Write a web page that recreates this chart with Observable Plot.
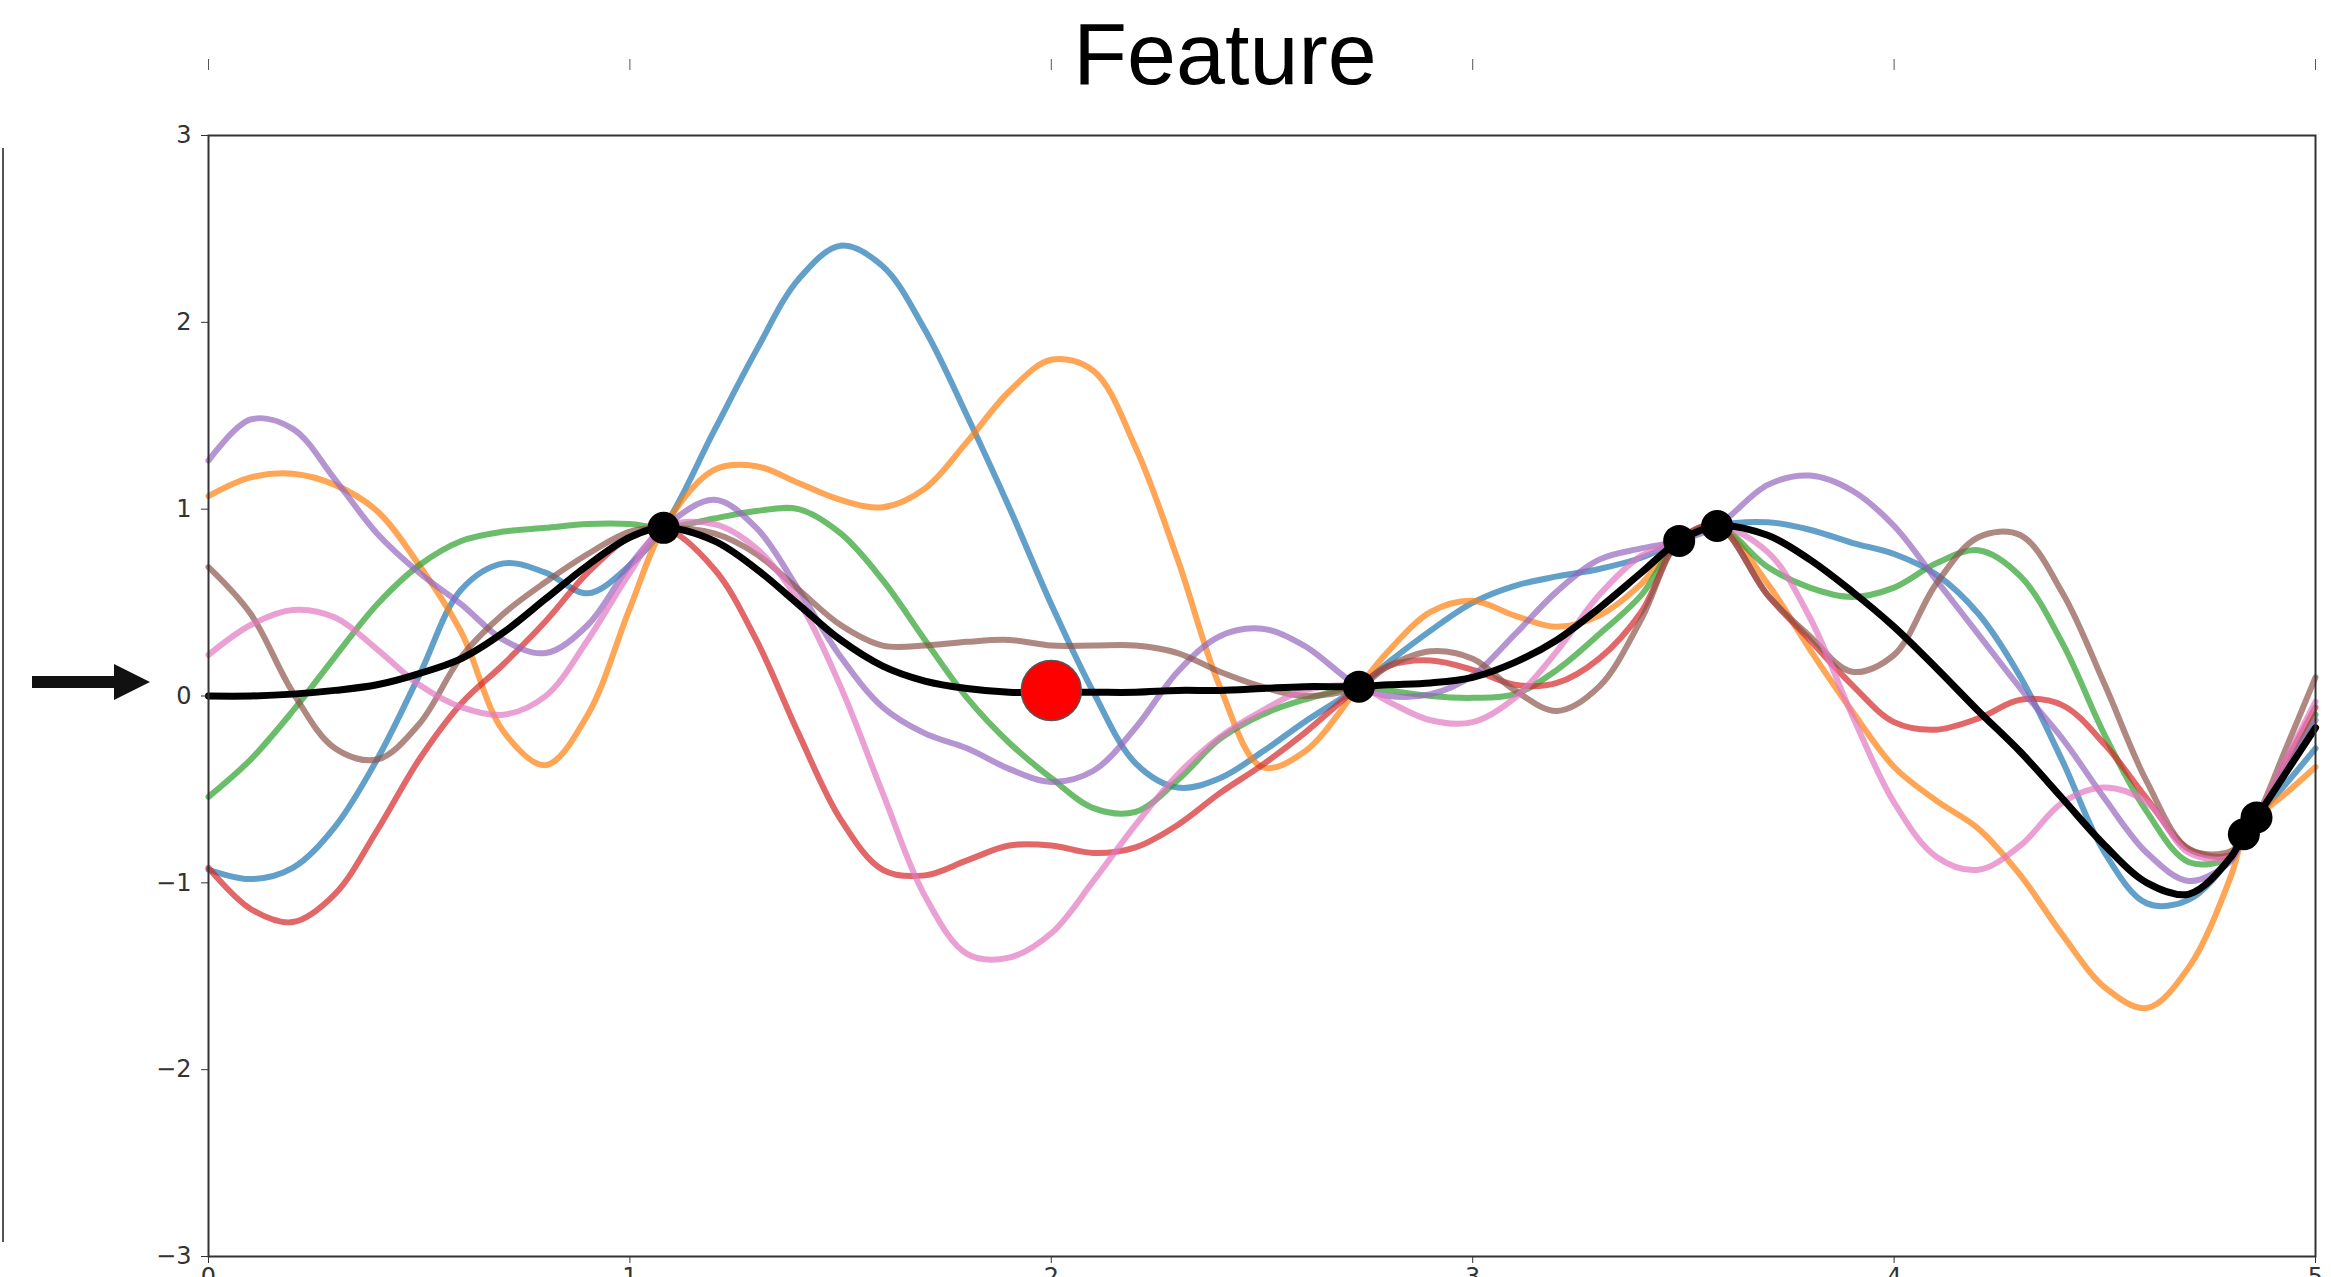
<!DOCTYPE html>
<html>
<head>
<meta charset="utf-8">
<script src="https://cdn.jsdelivr.net/npm/d3@7"></script>
<script src="https://cdn.jsdelivr.net/npm/@observablehq/plot@0.6"></script>
<style>
  html, body { margin: 0; padding: 0; background: #fff; }
  #wrap { position: relative; width: 2331px; }
  #wrap svg.plot { display: block; }
  #title {
    position: absolute; left: 0; top: 10px; width: 2450px; text-align: center;
    font-family: "Liberation Sans", Arial, Helvetica, sans-serif; font-size: 88px; line-height: 1;
    color: #000; pointer-events: none; z-index: 2;
  }
  #leftEdge { position: absolute; left: 2px; top: 148px; width: 2px; height: 1094px; background: #555; }
  #arrow { position: absolute; left: 0; top: 640px; z-index: 2; }
</style>
</head>
<body>
<div id="wrap">
  <div id="title">Feature</div>
  <div id="leftEdge"></div>
  <svg id="arrow" width="170" height="90" viewBox="0 640 170 90">
    <rect x="32" y="676" width="84" height="12" fill="#111"></rect>
    <polygon points="114,664 150,682 114,700" fill="#111"></polygon>
  </svg>
</div>
<script>
// ---- data ----
const xs = [0,0.1,0.2,0.3,0.4,0.5,0.6,0.7,0.8,0.9,1.0,1.08,1.2,1.3,1.4,1.5,1.6,1.7,1.8,1.9,2.0,2.1,2.2,2.3,2.4,2.5,2.6,2.73,2.8,2.9,3.0,3.1,3.2,3.3,3.4,3.49,3.58,3.7,3.8,3.9,4.0,4.1,4.2,4.3,4.4,4.5,4.6,4.7,4.8,4.83,4.86,4.93,5.0];

const sample1 = [-0.93,-0.98,-0.92,-0.70,-0.34,0.11,0.57,0.71,0.66,0.55,0.70,0.90,1.42,1.85,2.23,2.41,2.30,1.96,1.50,1.01,0.49,0.02,-0.36,-0.49,-0.44,-0.30,-0.14,0.05,0.18,0.35,0.50,0.59,0.64,0.68,0.74,0.83,0.91,0.93,0.89,0.82,0.76,0.65,0.44,0.10,-0.35,-0.84,-1.11,-1.09,-0.86,-0.74,-0.65,-0.47,-0.28];
const sample2 = [1.07,1.17,1.19,1.13,0.99,0.70,0.34,-0.19,-0.37,-0.10,0.47,0.90,1.21,1.23,1.14,1.05,1.01,1.11,1.36,1.63,1.80,1.74,1.33,0.73,0.05,-0.38,-0.30,0.05,0.24,0.45,0.51,0.43,0.37,0.43,0.60,0.83,0.91,0.60,0.25,-0.08,-0.38,-0.56,-0.71,-0.96,-1.28,-1.56,-1.67,-1.45,-0.96,-0.74,-0.65,-0.52,-0.38];
const sample3 = [-0.54,-0.34,-0.08,0.21,0.49,0.70,0.83,0.88,0.90,0.92,0.92,0.90,0.95,0.99,1.00,0.87,0.62,0.30,-0.01,-0.25,-0.44,-0.60,-0.62,-0.45,-0.23,-0.10,-0.02,0.05,0.03,0.00,-0.01,0.01,0.14,0.33,0.54,0.83,0.91,0.69,0.58,0.53,0.58,0.71,0.78,0.64,0.28,-0.21,-0.62,-0.89,-0.86,-0.74,-0.65,-0.38,-0.10];
const sample4 = [-0.92,-1.14,-1.21,-1.06,-0.72,-0.34,-0.04,0.17,0.40,0.66,0.85,0.90,0.68,0.30,-0.20,-0.66,-0.93,-0.96,-0.88,-0.80,-0.80,-0.84,-0.81,-0.69,-0.52,-0.37,-0.20,0.05,0.16,0.19,0.14,0.06,0.07,0.20,0.45,0.83,0.91,0.54,0.30,0.06,-0.14,-0.18,-0.12,-0.02,-0.05,-0.26,-0.55,-0.82,-0.85,-0.74,-0.65,-0.35,-0.06];
const sample5 = [1.26,1.48,1.43,1.16,0.87,0.66,0.49,0.30,0.23,0.38,0.70,0.90,1.05,0.90,0.57,0.21,-0.06,-0.20,-0.28,-0.39,-0.46,-0.40,-0.17,0.13,0.32,0.36,0.27,0.05,0.00,0.01,0.11,0.33,0.56,0.73,0.79,0.83,0.91,1.13,1.18,1.10,0.91,0.62,0.33,0.04,-0.23,-0.55,-0.84,-0.99,-0.88,-0.74,-0.65,-0.39,-0.13];
const sample6 = [0.69,0.44,0.02,-0.28,-0.34,-0.15,0.21,0.44,0.61,0.76,0.88,0.90,0.87,0.76,0.57,0.38,0.27,0.27,0.29,0.30,0.27,0.27,0.27,0.23,0.13,0.05,0.00,0.05,0.16,0.24,0.20,0.03,-0.08,0.05,0.41,0.83,0.91,0.54,0.32,0.13,0.22,0.60,0.85,0.86,0.55,0.06,-0.46,-0.82,-0.83,-0.74,-0.65,-0.28,0.10];
const sample7 = [0.22,0.38,0.46,0.42,0.25,0.06,-0.06,-0.10,0.00,0.30,0.66,0.90,0.92,0.79,0.51,0.05,-0.52,-1.07,-1.38,-1.40,-1.27,-0.99,-0.69,-0.42,-0.22,-0.08,0.03,0.05,-0.03,-0.13,-0.14,-0.01,0.24,0.54,0.75,0.83,0.91,0.77,0.42,-0.10,-0.57,-0.86,-0.93,-0.80,-0.57,-0.49,-0.57,-0.84,-0.86,-0.74,-0.65,-0.34,-0.03];
const mean    = [0.00,0.00,0.01,0.03,0.06,0.12,0.20,0.34,0.52,0.70,0.85,0.90,0.83,0.68,0.49,0.30,0.16,0.08,0.04,0.02,0.02,0.02,0.02,0.03,0.03,0.04,0.05,0.05,0.06,0.07,0.10,0.18,0.30,0.47,0.66,0.83,0.91,0.86,0.73,0.56,0.37,0.15,-0.08,-0.30,-0.55,-0.80,-1.00,-1.06,-0.86,-0.74,-0.65,-0.41,-0.17];

const seriesNames  = ["sample 1","sample 2","sample 3","sample 4","sample 5","sample 6","sample 7"];
const seriesValues = [sample1, sample2, sample3, sample4, sample5, sample6, sample7];
const seriesColors = ["#1f77b4","#ff7f0e","#2ca02c","#d62728","#9467bd","#8c564b","#e377c2"];

const obsX = [1.08, 2.73, 3.49, 3.58, 4.83, 4.86];
const obsY = [0.90, 0.05, 0.83, 0.91, -0.74, -0.65];
const queryX = [2.0];
const queryY = [0.03];

const xTicks = [0, 1, 2, 3, 4, 5];
const xTickLabels = ["0", "1", "2", "3", "4", "5"];
const yTicks = [-3, -2, -1, 0, 1, 2, 3];
const yTickLabels = ["−3", "−2", "−1", "0", "1", "2", "3"];

// ---- tables built from the arrays ----
const samples = [];
seriesNames.forEach((name, i) => {
  xs.forEach((x, j) => samples.push({series: name, x, y: seriesValues[i][j]}));
});
const meanData = xs.map((x, j) => ({x, y: mean[j]}));
const obs = obsX.map((x, i) => ({x, y: obsY[i]}));
const query = queryX.map((x, i) => ({x, y: queryY[i]}));

const chart = Plot.plot({
  width: 2331,
  height: 1330,
  marginLeft: 208,
  marginRight: 16,
  marginTop: 135,
  marginBottom: 74,
  style: {fontFamily: "'DejaVu Sans', sans-serif", fontSize: "24px", color: "#333", background: "white", overflow: "visible"},
  x: {domain: [0, 5], axis: null},
  y: {domain: [-3, 3], axis: null},
  color: {type: "ordinal", domain: seriesNames, range: seriesColors},
  marks: [
    Plot.line(samples, {x: "x", y: "y", z: "series", stroke: "series", strokeWidth: 6, strokeOpacity: 0.7, curve: "catmull-rom"}),
    Plot.line(meanData, {x: "x", y: "y", stroke: "black", strokeWidth: 7, curve: "catmull-rom"}),
    Plot.dot(obs, {x: "x", y: "y", r: 16, fill: "black"}),
    Plot.dot(query, {x: "x", y: "y", r: 30, fill: "red", stroke: "#555", strokeWidth: 1.5}),
    Plot.frame({stroke: "#333", strokeWidth: 2}),
    Plot.axisY({ticks: yTicks, label: null, tickSize: 7, tickPadding: 10, fontSize: 24, stroke: "#333", fill: "#333",
      tickFormat: d => yTickLabels[yTicks.indexOf(d)]}),
    Plot.axisX({ticks: xTicks, label: null, tickSize: 7, tickPadding: 4, fontSize: 24, stroke: "#333", fill: "#333",
      tickFormat: d => xTickLabels[xTicks.indexOf(d)]}),
    Plot.axisX({anchor: "top", ticks: xTicks, label: null, tickSize: 11, tickFormat: () => "", stroke: "#555", dy: -66})
  ]
});
chart.classList.add("plot");
document.getElementById("wrap").appendChild(chart);
</script>
</body>
</html>
